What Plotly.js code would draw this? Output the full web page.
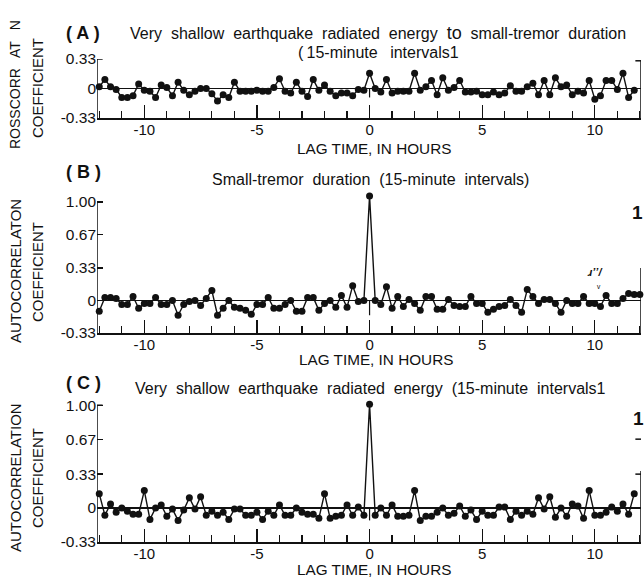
<!DOCTYPE html>
<html>
<head>
<meta charset="utf-8">
<script src="https://cdn.plot.ly/plotly-3.0.1.min.js"></script>
<style>
  html, body { margin: 0; padding: 0; background: #fff; }
  #chart { width: 644px; height: 582px; }
</style>
</head>
<body>
<div id="chart"></div>
<script>
// Lag grid: 15-minute steps from -12 h
const lagStepHours = 0.25;
const lagStartHours = -12;

// (A) crosscorrelation, radiated energy vs small-tremor duration
const crossCorrA = [
  0.02, 0.10, 0.02, -0.01, -0.10, -0.10, -0.08, 0.05, -0.02, -0.03,
  -0.10, 0.04, 0.01, -0.08, 0.07, -0.02, -0.07, -0.03, 0.00, 0.00,
  -0.06, -0.14, -0.07, -0.10, 0.07, -0.03, -0.03, -0.03, -0.02, -0.03,
  -0.03, 0.01, 0.11, -0.03, -0.05, 0.07, -0.03, -0.09, 0.10, -0.02,
  0.04, -0.03, -0.08, -0.05, -0.05, -0.08, -0.01, -0.02, 0.17, 0.00,
  -0.04, 0.10, -0.05, -0.03, -0.03, -0.03, 0.17, -0.02, 0.02, 0.09,
  -0.07, 0.12, -0.02, 0.01, 0.09, -0.04, -0.04, -0.03, -0.07, -0.07,
  -0.04, -0.07, -0.05, 0.03, -0.03, -0.03, 0.02, 0.06, -0.07, 0.09,
  -0.07, 0.12, 0.02, 0.04, -0.07, -0.03, -0.05, 0.09, -0.12, -0.08,
  0.09, 0.09, -0.01, 0.17, -0.10, -0.02
];

// (B) autocorrelation, small-tremor duration
const autoCorrB = [
  -0.11, 0.03, 0.03, 0.02, -0.04, -0.04, 0.04, -0.08, -0.03, -0.03,
  0.03, -0.04, -0.04, 0.00, -0.15, -0.04, -0.01, 0.00, -0.05, 0.02,
  0.10, -0.15, -0.08, 0.00, -0.07, -0.08, -0.10, -0.14, -0.04, -0.04,
  0.03, -0.08, -0.08, -0.04, 0.00, -0.11, -0.11, 0.03, 0.03, -0.10,
  -0.03, 0.00, -0.07, 0.05, -0.07, 0.15, -0.01, 0.00, 1.06, 0.00,
  -0.04, 0.14, -0.08, 0.04, -0.06, 0.01, -0.03, -0.10, 0.04, 0.04,
  -0.09, -0.09, 0.01, -0.05, -0.06, -0.06, 0.04, -0.03, -0.03, -0.12,
  -0.09, -0.06, -0.05, 0.01, -0.05, -0.12, 0.11, 0.04, -0.03, 0.01,
  0.01, -0.03, -0.12, 0.00, -0.03, -0.03, 0.04, -0.03, -0.03, -0.06,
  0.05, -0.03, -0.03, 0.02, 0.07, 0.06, 0.06
];

// (C) autocorrelation, very shallow earthquake radiated energy
const autoCorrC = [
  0.14, -0.07, 0.04, -0.04, 0.00, -0.03, -0.06, -0.06, 0.17, -0.11,
  0.00, 0.03, -0.08, -0.01, -0.12, -0.02, 0.10, -0.01, 0.11, -0.07,
  -0.03, -0.07, -0.04, -0.11, -0.01, -0.01, -0.07, -0.07, -0.04, -0.11,
  -0.03, -0.07, 0.03, -0.07, -0.07, 0.00, -0.04, -0.06, -0.06, -0.10,
  0.14, -0.10, -0.08, -0.07, 0.03, -0.07, 0.01, -0.07, 1.01, -0.07,
  0.00, -0.07, 0.03, -0.08, -0.08, -0.07, 0.17, -0.12, -0.08, -0.08,
  -0.04, 0.00, -0.07, -0.05, 0.02, -0.08, -0.02, -0.11, -0.03, -0.07,
  -0.07, 0.01, 0.01, -0.11, -0.03, -0.07, -0.03, -0.06, 0.10, -0.01,
  0.11, -0.09, 0.00, -0.08, 0.04, 0.02, -0.10, 0.17, -0.07, -0.07,
  -0.04, 0.01, -0.03, 0.04, -0.06, 0.14
];

const xTickVals = [-10, -5, 0, 5, 10];
const xTickText = ['-10', '-5', '0', '5', '10'];
const hourTicks = [-12, -11, -10, -9, -8, -7, -6, -5, -4, -3, -2, -1, 0,
                   1, 2, 3, 4, 5, 6, 7, 8, 9, 10, 11, 12];
const yTicksA = [-0.33, 0, 0.33];
const yTickTextA = ['-0.33', '0', '0.33'];
const yTicksBC = [-0.33, 0, 0.33, 0.67, 1.0];
const yTickTextBC = ['-0.33', '0', '0.33', '0.67', '1.00'];

const lagsFor = vals => vals.map((_, i) => lagStartHours + i * lagStepHours);

const W = 644, H = 582;
const px = x => x / W;
const py = y => 1 - y / H;

const FONT = 'Liberation Sans, Arial, Helvetica, sans-serif';
const INK = '#111';

function series(vals, xa, ya) {
  return {
    type: 'scatter', mode: 'lines+markers',
    x: lagsFor(vals), y: vals, xaxis: xa, yaxis: ya,
    line: { color: INK, width: 1.4 },
    marker: { color: INK, size: 7 },
    cliponaxis: false, hoverinfo: 'x+y', showlegend: false
  };
}

const X_RANGE = [-12.1, 12.05];
const X_DOMAIN = [px(97), px(641)];

function xAxis(anchor) {
  return {
    domain: X_DOMAIN, range: X_RANGE, anchor: anchor,
    showline: true, linecolor: INK, linewidth: 1.5,
    ticks: 'inside', tickmode: 'array', tickvals: xTickVals, ticktext: xTickText,
    ticklen: 13, tickwidth: 1.3, tickcolor: INK,
    minor: { tickmode: 'array', tickvals: hourTicks, ticks: 'inside',
             ticklen: 7, tickwidth: 1.2, tickcolor: INK, showgrid: false },
    showgrid: false, zeroline: false,
    ticklabelstandoff: -3,
    tickfont: { family: FONT, size: 15, color: INK }
  };
}

function yAxis(anchor, domain, range, vals, text) {
  return {
    domain: domain, range: range, anchor: anchor,
    showline: false,
    ticks: 'inside', tickmode: 'array', tickvals: vals, ticktext: text,
    ticklen: 6, tickwidth: 1.3, tickcolor: INK,
    showgrid: false, zeroline: true, zerolinecolor: INK, zerolinewidth: 1.3,
    tickfont: { family: FONT, size: 15.5, color: INK }
  };
}

function vline(xref, yref, x, y0, y1, w) {
  return { type: 'line', xref: xref, yref: yref, x0: x, x1: x, y0: y0, y1: y1,
           line: { color: INK, width: w || 1.5 } };
}
function hline(xref, yref, x0, x1, y, w) {
  return { type: 'line', xref: xref, yref: yref, x0: x0, x1: x1, y0: y, y1: y,
           line: { color: INK, width: w || 1.5 } };
}

const shapes = [
  // panel A frame pieces
  vline('x', 'y', X_RANGE[0], -0.33, 0.33),
  hline('x', 'y', X_RANGE[0], -11.85, 0.33),
  vline('x', 'y', X_RANGE[1], -0.33, 0.31),
  hline('x', 'y', 11.8, X_RANGE[1], 0.31),
  vline('x', 'y', 0, -0.10, 0, 1.2),
  // panel B
  vline('x2', 'y2', X_RANGE[0], -0.33, 1.0),
  hline('x2', 'y2', X_RANGE[0], -11.85, 1.0),
  vline('x2', 'y2', X_RANGE[1], -0.33, 0.33),
  vline('x2', 'y2', 0, -0.15, 0, 1.2),
  // panel C
  vline('x3', 'y3', X_RANGE[0], -0.33, 1.0),
  hline('x3', 'y3', X_RANGE[0], -11.85, 1.0),
  vline('x3', 'y3', X_RANGE[1], -0.33, 0.36),
  hline('x3', 'y3', 11.8, X_RANGE[1], 0.33),
  hline('x3', 'y3', 11.8, X_RANGE[1], 0.67),
  vline('x3', 'y3', 0, -0.12, 0, 1.2)
];

function note(text, x, y, size, opts) {
  return Object.assign({
    xref: 'paper', yref: 'paper', x: px(x), y: py(y),
    xanchor: 'center', yanchor: 'middle', showarrow: false,
    text: text, font: { family: FONT, size: size, color: INK }
  }, opts || {});
}

const G = ' \u00a0';          // widened word gap
const gap = (words, g) => words.join(g);

const titleA = gap(['Very', 'shallow', 'earthquake', 'radiated', 'energy',
  '<span style="font-size:18px">to</span>', 'small-tremor', 'duration'], G);
const subtitleA = '(\u200915-minute\u2002 intervals1';
const titleB = gap(['Small-tremor', 'duration', '(15-minute', 'intervals)'], G);
const titleC = gap(['Very', 'shallow', 'earthquake', 'radiated', 'energy',
  '(15-minute', 'intervals1'], G);

const annotations = [
  // panel A
  note('<b>( A )</b>', 64, 33, 18, { xanchor: 'left' }),
  note(titleA, 378, 33, 16),
  note(subtitleA, 378, 52, 16),
  note('LAG TIME, IN HOURS', 374, 148, 15.3),
  note('ROSSCORR\u2002 AT\u2002 N', 15, 85, 14, { textangle: -90 }),
  note('COEFFICIENT', 37, 88, 15, { textangle: -90 }),
  // panel B
  note('<b>( B )</b>', 64, 172, 18, { xanchor: 'left' }),
  note(titleB, 370, 179, 16),
  note('LAG TIME, IN HOURS', 376, 359, 15.3),
  note('AUTOCORRELATON', 15, 271, 15, { textangle: -90 }),
  note('COEFFICIENT', 37, 272, 15, { textangle: -90 }),
  note('<b>1</b>', 637, 212, 19),
  note('<b><i>ɹ\u2019ʼ/</i></b>', 595, 272, 11),
  note('ᵥ', 598, 284, 10),
  // panel C
  note('<b>( C )</b>', 64, 383, 18, { xanchor: 'left' }),
  note(titleC, 370, 388, 16),
  note('LAG TIME, IN HOURS', 374, 569, 15.3),
  note('AUTOCORRELATION', 15, 478, 15, { textangle: -90 }),
  note('COEFFICIENT', 37, 478, 15, { textangle: -90 }),
  note('<b>1</b>', 638, 418, 19)
];

const layout = {
  width: W, height: H,
  margin: { l: 0, r: 0, t: 0, b: 0 },
  paper_bgcolor: '#fff', plot_bgcolor: 'rgba(0,0,0,0)',
  showlegend: false,
  xaxis: xAxis('y'),
  yaxis: yAxis('x', [py(118), py(59)], [-0.33, 0.33], yTicksA, yTickTextA),
  xaxis2: xAxis('y2'),
  yaxis2: yAxis('x2', [py(333), py(194)], [-0.33, 1.08], yTicksBC, yTickTextBC),
  xaxis3: xAxis('y3'),
  yaxis3: yAxis('x3', [py(542), py(397)], [-0.33, 1.08], yTicksBC, yTickTextBC),
  shapes: shapes,
  annotations: annotations
};

Plotly.newPlot('chart', [
  series(crossCorrA, 'x', 'y'),
  series(autoCorrB, 'x2', 'y2'),
  series(autoCorrC, 'x3', 'y3')
], layout, { staticPlot: true, displayModeBar: false });
</script>
</body>
</html>
